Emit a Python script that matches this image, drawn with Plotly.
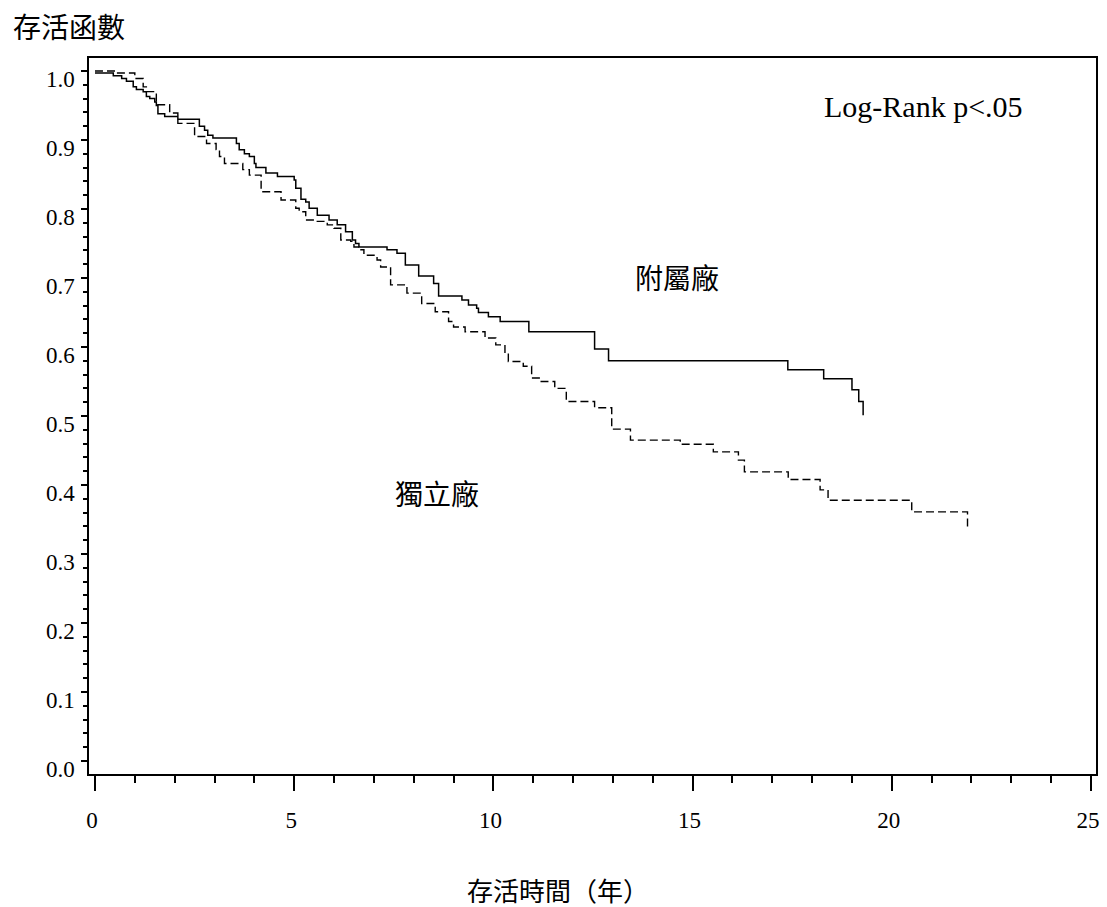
import plotly.graph_objects as go

# ---- data (Kaplan-Meier step curves) ----
affiliated_name = "附屬廠"
affiliated_time = [0, 0.46, 0.67, 0.79, 0.96, 1.04, 1.21, 1.29, 1.375, 1.5, 1.54, 1.58, 1.75,
                   2.08, 2.62, 2.75, 2.83, 2.96, 3.55, 3.62, 3.75, 3.875, 4.0, 4.04, 4.29, 4.58,
                   5.0, 5.04, 5.17, 5.29, 5.375, 5.58, 5.875, 6.08, 6.29, 6.46, 6.54, 6.625,
                   7.33, 7.58, 7.79, 8.125, 8.5, 8.625, 9.21, 9.375, 9.58, 9.625, 9.875, 10.17,
                   10.89, 12.54, 12.89, 17.39, 18.29, 19.0, 19.17, 19.28]
affiliated_surv = [0.997, 0.993, 0.989, 0.985, 0.977, 0.973, 0.970, 0.963, 0.960, 0.955, 0.950, 0.938, 0.934,
                   0.930, 0.920, 0.914, 0.907, 0.903, 0.895, 0.886, 0.880, 0.876, 0.866, 0.860, 0.852, 0.847,
                   0.842, 0.830, 0.814, 0.810, 0.801, 0.791, 0.784, 0.777, 0.767, 0.755, 0.750, 0.745,
                   0.741, 0.736, 0.719, 0.703, 0.692, 0.674, 0.668, 0.661, 0.656, 0.650, 0.644, 0.637,
                   0.622, 0.597, 0.580, 0.567, 0.554, 0.538, 0.521, 0.501]

independent_name = "獨立廠"
independent_time = [0, 0.54, 1.0, 1.21, 1.29, 1.54, 1.875, 2.08, 2.5, 2.8, 3.04, 3.125, 3.25, 3.71,
                    3.875, 4.17, 4.67, 5.04, 5.125, 5.29, 5.58, 5.83, 6.0, 6.17, 6.42, 6.5, 6.625,
                    6.75, 7.08, 7.17, 7.42, 7.83, 8.2, 8.54, 8.875, 9.0, 9.29, 9.79, 10.06, 10.29,
                    10.375, 10.75, 10.96, 11.2, 11.54, 11.83, 12.54, 12.97, 13.44, 14.69, 15.52,
                    16.15, 16.3, 17.4, 18.2, 18.4, 20.5, 21.9]
independent_surv = [1.0, 0.997, 0.989, 0.977, 0.970, 0.951, 0.939, 0.924, 0.905, 0.895, 0.886, 0.876, 0.866, 0.857,
                    0.849, 0.825, 0.813, 0.801, 0.796, 0.784, 0.782, 0.777, 0.772, 0.755, 0.753, 0.745, 0.741,
                    0.733, 0.726, 0.716, 0.690, 0.678, 0.663, 0.651, 0.637, 0.629, 0.622, 0.613, 0.603, 0.591,
                    0.579, 0.572, 0.555, 0.550, 0.540, 0.521, 0.512, 0.481, 0.465, 0.459, 0.448,
                    0.436, 0.419, 0.408, 0.393, 0.378, 0.361, 0.334]

x_tick_vals = [0, 5, 10, 15, 20, 25]
x_tick_text = ["0", "5", "10", "15", "20", "25"]
y_tick_vals = [0.0, 0.1, 0.2, 0.3, 0.4, 0.5, 0.6, 0.7, 0.8, 0.9, 1.0]
y_tick_text = ["0.0", "0.1", "0.2", "0.3", "0.4", "0.5", "0.6", "0.7", "0.8", "0.9", "1.0"]

y_title = "存活函數"
x_title = "存活時間（年）"
test_text = "Log-Rank p<.05"

CJK = "Noto Sans CJK TC"
SERIF = "Liberation Serif, Times New Roman, serif"

fig = go.Figure()
fig.add_trace(go.Scatter(x=affiliated_time, y=affiliated_surv, mode="lines", line_shape="hv",
                         name=affiliated_name, line=dict(color="black", width=1.5)))
fig.add_trace(go.Scatter(x=independent_time, y=independent_surv, mode="lines", line_shape="hv",
                         name=independent_name, line=dict(color="black", width=1.4, dash="8px,4px")))

W, H = 1107, 907
L, R, T, B = 89, 7, 58, 133
pw, ph = W - L - R, H - T - B


def paper_x(px):
    return (px - L) / pw


def paper_y(py):
    return (H - B - py) / ph


fig.update_layout(
    width=W, height=H, autosize=False,
    margin=dict(l=L, r=R, t=T, b=B, pad=0),
    paper_bgcolor="white", plot_bgcolor="white",
    showlegend=False, hovermode=False,
    font=dict(family=SERIF, color="black"),
)

fig.update_xaxes(
    range=[-0.15, 25.125], showgrid=False, zeroline=False,
    showline=True, linecolor="black", linewidth=1.5, mirror=True,
    tickmode="array", tickvals=x_tick_vals, ticktext=x_tick_text,
    ticks="outside", ticklen=15, tickwidth=1.5, tickcolor="black",
    minor=dict(ticks="outside", dtick=1, ticklen=7, tickwidth=1.5, tickcolor="black", showgrid=False),
    tickfont=dict(family=SERIF, size=23, color="black"),
    ticklabelstandoff=10, ticklabelshift=-3,
)
fig.update_yaxes(
    range=[-0.0188, 1.0188], showgrid=False, zeroline=False,
    showline=True, linecolor="black", linewidth=1.5, mirror=True,
    tickmode="array", tickvals=y_tick_vals, ticktext=y_tick_text,
    ticks="outside", ticklen=6, tickwidth=1.5, tickcolor="black",
    minor=dict(ticks="outside", dtick=0.02, ticklen=4, tickwidth=1.5, tickcolor="black", showgrid=False),
    tickfont=dict(family=SERIF, size=23, color="black"),
    ticklabelstandoff=2, ticklabelshift=8,
)

fig.add_annotation(text=y_title, xref="paper", yref="paper", x=paper_x(11), y=paper_y(26),
                   xanchor="left", yanchor="middle", showarrow=False,
                   font=dict(family=CJK, size=28, color="black"))
fig.add_annotation(text=x_title, xref="paper", yref="paper", x=paper_x(560), y=paper_y(889),
                   xanchor="center", yanchor="middle", showarrow=False,
                   font=dict(family=CJK, size=26, color="black"))
fig.add_annotation(text=test_text, xref="paper", yref="paper", x=paper_x(927), y=paper_y(106),
                   xanchor="center", yanchor="middle", showarrow=False,
                   font=dict(family=SERIF, size=30, color="black"))
fig.add_annotation(text=affiliated_name, xref="paper", yref="paper", x=paper_x(679), y=paper_y(277),
                   xanchor="center", yanchor="middle", showarrow=False,
                   font=dict(family=CJK, size=28, color="black"))
fig.add_annotation(text=independent_name, xref="paper", yref="paper", x=paper_x(438), y=paper_y(493),
                   xanchor="center", yanchor="middle", showarrow=False,
                   font=dict(family=CJK, size=28, color="black"))

fig.write_html("out.html",
               config={"displayModeBar": False, "responsive": False},
               post_script="document.body.style.margin='0';document.body.style.overflow='hidden';")
